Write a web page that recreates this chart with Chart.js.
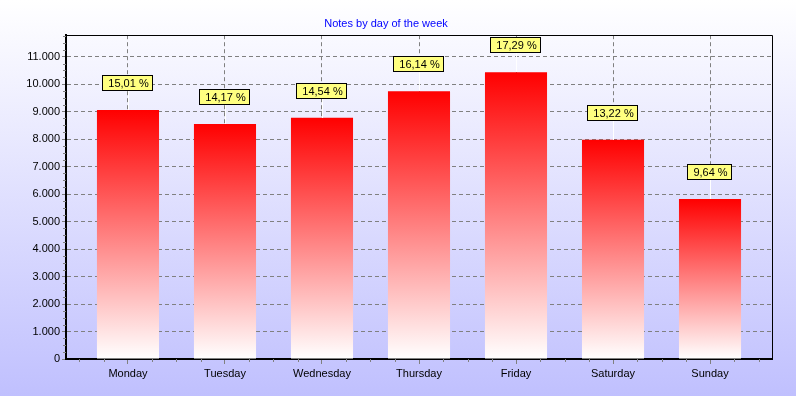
<!DOCTYPE html>
<html>
<head>
<meta charset="utf-8">
<script src="https://cdn.jsdelivr.net/npm/chart.js@4/dist/chart.umd.min.js"></script>
<style>
  html, body { margin: 0; padding: 0; }
  #wrap { width: 796px; height: 396px; }
</style>
</head>
<body>
<div id="wrap"><canvas id="notesChart" width="796" height="396"></canvas></div>
<script>
const days = ['Monday', 'Tuesday', 'Wednesday', 'Thursday', 'Friday', 'Saturday', 'Sunday'];
const notes = [9060, 8553, 8776, 9742, 10436, 7979, 5819];
const shares = [15.01, 14.17, 14.54, 16.14, 17.29, 13.22, 9.64];
const yTicks = [0, 1000, 2000, 3000, 4000, 5000, 6000, 7000, 8000, 9000, 10000, 11000];

const FONT = "'Liberation Sans', Arial, sans-serif";
const GRID = '#808080';

function fmtThousands(v) {
    return String(v).replace(/\B(?=(\d{3})+(?!\d))/g, '.');
}

// page background: white at the top fading to lavender
const backgroundPlugin = {
    id: 'pageBg',
    beforeDraw(chart) {
        const c = chart.ctx;
        const g = c.createLinearGradient(0, 0, 0, chart.height);
        g.addColorStop(0, '#ffffff');
        g.addColorStop(1, '#c0c0fe');
        c.save();
        c.fillStyle = g;
        c.fillRect(0, 0, chart.width, chart.height);
        c.restore();
    }
};

// minor ticks, thin top/right frame
const framePlugin = {
    id: 'frame',
    afterDraw(chart) {
        const c = chart.ctx;
        const a = chart.chartArea;
        const x = chart.scales.x, y = chart.scales.y;
        c.save();
        c.strokeStyle = GRID;
        c.lineWidth = 1;
        c.beginPath();
        for (let v = 250; v <= 11750; v += 250) {
            if (v % 1000 === 0) continue;
            const py = Math.round(y.getPixelForValue(v)) + 0.5;
            c.moveTo(a.left - 3, py);
            c.lineTo(a.left, py);
        }
        for (let v = 0.5; v <= 7.5; v += 0.25) {
            if (Number.isInteger(v)) continue;
            const px = Math.round(x.getPixelForValue(v)) + 0.5;
            c.moveTo(px, a.bottom);
            c.lineTo(px, a.bottom + 3);
        }
        c.stroke();

        c.strokeStyle = '#000000';
        c.beginPath();
        c.moveTo(a.left, Math.round(a.top) + 0.5);
        c.lineTo(Math.round(a.right) + 0.5, Math.round(a.top) + 0.5);
        c.lineTo(Math.round(a.right) + 0.5, a.bottom);
        c.stroke();
        c.restore();
    }
};

// yellow percentage boxes with a white leader line
const shareLabels = {
    id: 'shareLabels',
    afterDatasetsDraw(chart) {
        const c = chart.ctx;
        const meta = chart.getDatasetMeta(0);
        c.save();
        c.font = '11px ' + FONT;
        c.textAlign = 'center';
        c.textBaseline = 'middle';
        meta.data.forEach((bar, i) => {
            const txt = shares[i].toFixed(2).replace('.', ',') + ' %';
            const w = Math.round(c.measureText(txt).width) + 11;
            const h = 16;
            const cx = Math.round(bar.x);
            const boxBottom = Math.round(bar.y) - 19;
            const left = cx - Math.round(w / 2);
            c.strokeStyle = '#ffffff';
            c.lineWidth = 1;
            c.beginPath();
            c.moveTo(cx + 0.5, boxBottom);
            c.lineTo(cx + 0.5, Math.round(bar.y));
            c.stroke();
            c.fillStyle = '#ffff80';
            c.fillRect(left, boxBottom - h, w, h);
            c.strokeStyle = '#000000';
            c.strokeRect(left + 0.5, boxBottom - h + 0.5, w - 1, h - 1);
            c.fillStyle = '#000000';
            c.fillText(txt, cx + 0.5, boxBottom - h / 2 + 0.5);
        });
        c.restore();
    }
};

new Chart(document.getElementById('notesChart'), {
    type: 'bar',
    data: {
        datasets: [{
            label: 'Notes',
            data: notes.map((n, i) => ({ x: i + 1, y: n })),
            backgroundColor: (ctx) => {
                const chart = ctx.chart;
                const ys = chart.scales.y;
                if (!chart.chartArea || !ys || !ctx.raw) return '#ff0000';
                const top = ys.getPixelForValue(ctx.raw.y);
                const bottom = ys.getPixelForValue(0);
                const g = chart.ctx.createLinearGradient(0, top, 0, bottom);
                g.addColorStop(0, '#ff0000');
                g.addColorStop(1, '#ffffff');
                return g;
            },
            borderWidth: 0,
            barPercentage: 0.64,
            categoryPercentage: 1,
        }]
    },
    options: {
        responsive: false,
        animation: false,
        layout: { padding: { top: 0, right: 24, bottom: 0, left: 0 } },
        plugins: {
            legend: { display: false },
            tooltip: { enabled: false },
            title: {
                display: true,
                text: 'Notes by day of the week',
                color: '#0000ff',
                font: { family: FONT, size: 11, weight: 'normal' },
                padding: { top: 17, bottom: 5 },
            },
        },
        scales: {
            x: {
                type: 'linear',
                offset: false,
                min: 0.361,
                max: 7.639,
                afterBuildTicks: (scale) => { scale.ticks = days.map((d, i) => ({ value: i + 1 })); },
                afterFit: (scale) => { scale.height = 37; },
                ticks: {
                    autoSkip: false,
                    maxRotation: 0,
                    padding: 3,
                    color: '#000000',
                    font: { family: FONT, size: 11 },
                    callback: (v) => days[v - 1] || '',
                },
                grid: { offset: false, color: GRID, tickColor: GRID, tickLength: 5, lineWidth: 1 },
                border: { display: true, color: '#000000', width: 2, dash: [4, 3] },
            },
            y: {
                min: 0,
                max: 11780,
                afterBuildTicks: (scale) => { scale.ticks = yTicks.map(v => ({ value: v })); },
                afterFit: (scale) => { scale.width = 66; },
                ticks: {
                    autoSkip: false,
                    padding: 2,
                    color: '#000000',
                    font: { family: FONT, size: 11 },
                    callback: (v) => fmtThousands(v),
                },
                grid: { color: GRID, tickColor: GRID, tickLength: 4, lineWidth: 1 },
                border: { display: true, color: '#000000', width: 2, dash: [4, 3] },
            }
        }
    },
    plugins: [backgroundPlugin, framePlugin, shareLabels]
});
</script>
</body>
</html>
